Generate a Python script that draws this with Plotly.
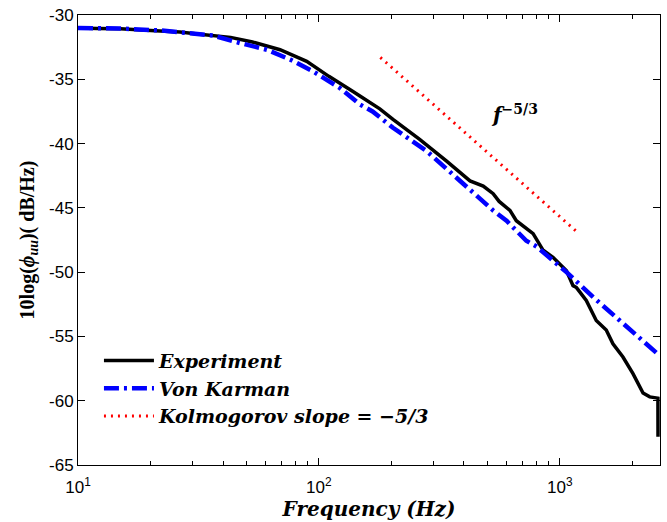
import plotly.graph_objects as go

# Experiment spectrum (Hz, dB/Hz)
exp_f = [10, 12, 15, 20, 26.5, 32, 43, 53, 69, 89, 110, 138, 148, 179, 203, 262, 339,
         424, 481, 529, 560, 621, 660, 775, 853, 937, 1066, 1135, 1173, 1288, 1417,
         1559, 1662, 1829, 2013, 2216, 2362, 2555, 2556, 2557]
exp_db = [-31.02, -31.05, -31.07, -31.2, -31.33, -31.49, -31.74, -32.1, -32.7, -33.6,
          -34.77, -35.93, -36.3, -37.3, -38.12, -39.67, -41.36, -42.9, -43.3, -43.9,
          -44.5, -45.2, -46.0, -47.0, -48.3, -48.85, -49.9, -51.05, -51.2, -52.2,
          -53.76, -54.5, -55.57, -56.6, -57.9, -59.4, -59.7, -59.8, -61.5, -62.8]

# Von Karman model spectrum
vk_f = [10, 15, 21.9, 36.3, 47, 60.8, 76, 94.5, 122, 148, 167, 203, 280, 385, 466,
        529, 601, 726, 800, 1066, 1377, 1829, 2600]
vk_db = [-31.02, -31.05, -31.2, -31.59, -32.18, -32.7, -33.47, -34.38, -35.67, -36.96,
         -37.5, -38.77, -40.58, -42.9, -44.35, -45.2, -46.0, -47.56, -48.0, -50.0,
         -51.95, -54.0, -56.5]

# Kolmogorov -5/3 reference slope
kol_f = [180, 1200]
kol_db = [-33.3, -47.0]

y_ticks = [-30, -35, -40, -45, -50, -55, -60, -65]
y_ticktext = ["-30", "-35", "-40", "-45", "-50", "-55", "-60", "-65"]
x_ticks = [10, 100, 1000]
x_ticktext = ["10<sup>1</sup>", "10<sup>2</sup>", "10<sup>3</sup>"]
x_minor = [20, 30, 40, 50, 60, 70, 80, 90, 200, 300, 400, 500, 600, 700, 800, 900, 2000]

legend_font = dict(family="DejaVu Serif", size=19, color="black", weight="bold", style="italic")

fig = go.Figure()
fig.add_trace(go.Scatter(x=exp_f, y=exp_db, mode="lines", name="Experiment",
                         line=dict(color="black", width=3.5, simplify=False)))
fig.add_trace(go.Scatter(x=vk_f, y=vk_db, mode="lines", name="Von Karman",
                         line=dict(color="#0000ff", width=4.5, dash="15px,5px,3px,5px")))
fig.add_trace(go.Scatter(x=kol_f, y=kol_db, mode="lines",
                         name="Kolmogorov slope = −5/3",
                         line=dict(color="#ff0000", width=3, dash="2px,5px")))

fig.add_annotation(x=2.81, y=-37.7, xref="x", yref="y",
                   text="<b><i>f</i><sup>−5/3</sup></b>", showarrow=False,
                   font=dict(family="DejaVu Serif", size=20, color="black"))

axis_common = dict(showline=True, linecolor="black", linewidth=1, mirror="ticks",
                   ticks="inside", tickcolor="black", showgrid=False, zeroline=False,
                   tickfont=dict(family="Liberation Sans", size=17, color="black"))

fig.update_layout(
    width=667, height=522,
    margin=dict(l=78, r=6, t=13, b=57),
    paper_bgcolor="white", plot_bgcolor="white",
    showlegend=True,
    legend=dict(x=0.036, y=0.274, xanchor="left", yanchor="top",
                bgcolor="rgba(0,0,0,0)", borderwidth=0, font=legend_font,
                itemwidth=50, tracegroupgap=0),
    xaxis=dict(type="log", range=[1, 3.416], tickvals=x_ticks, ticktext=x_ticktext,
               ticklen=7, ticklabelstandoff=7,
               minor=dict(tickvals=x_minor, ticks="inside", ticklen=4, tickcolor="black"),
               title=dict(text="<b><i>Frequency (Hz)</i></b>", standoff=4,
                          font=dict(family="DejaVu Serif", size=20, color="black")),
               **axis_common),
    yaxis=dict(range=[-65, -30], tickvals=y_ticks, ticktext=y_ticktext, ticklen=7,
               title=dict(text="<b>10log(<i>ϕ<sub>uu</sub></i>)( dB/Hz)</b>", standoff=9,
                          font=dict(family="Liberation Serif", size=20, color="black")),
               **axis_common),
)

fig.write_html("out.html", config={"displayModeBar": False},
               post_script="document.body.style.margin='0';")
